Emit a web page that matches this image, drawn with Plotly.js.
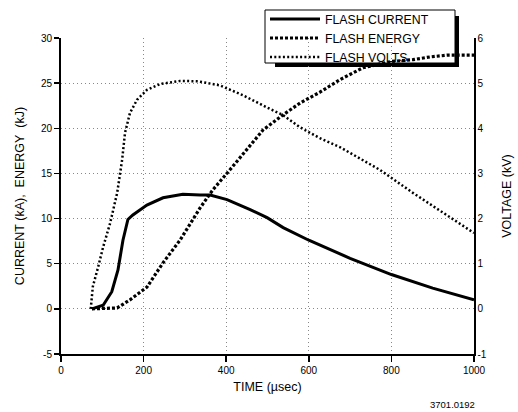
<!DOCTYPE html>
<html>
<head>
<meta charset="utf-8">
<script src="https://cdn.plot.ly/plotly-3.0.1.min.js"></script>
<style>html,body{margin:0;padding:0;background:#fff;}#chart{width:518px;height:412px;}</style>
</head>
<body>
<div id="chart"></div>
<script>
// Flash current (kA) vs time (µs)
const timeCurrent = [75,102,123,138,150,162,174,208,247,295,337,361,402,458,499,538,600,700,800,900,1000];
const current     = [0,0.4,1.9,4.3,7.6,9.9,10.4,11.5,12.3,12.7,12.6,12.6,12.1,11.0,10.1,9.0,7.6,5.6,3.8,2.3,1.0];

// Flash energy (kJ) vs time (µs)
const timeEnergy = [75,136,167,208,247,288,337,368,409,450,489,538,579,627,676,731,800,852,893,935,1000];
const energy     = [0,0.1,1.0,2.4,5.1,7.6,11.2,13.2,15.4,17.6,19.8,21.5,22.8,24.0,25.4,26.7,27.4,27.6,27.9,28.1,28.1];

// Flash voltage (kV) vs time (µs)
const timeVolts = [72,77,90,102,119,136,148,155,167,184,208,240,288,332,385,441,499,538,579,627,676,719,772,852,935,1000];
const volts     = [0,0.49,0.93,1.37,1.90,2.57,3.30,3.90,4.34,4.63,4.85,4.98,5.05,5.04,4.95,4.73,4.46,4.29,4.02,3.78,3.58,3.36,3.08,2.57,2.08,1.68];

const xTicks = [0,200,400,600,800,1000];
const yTicks = [-5,0,5,10,15,20,25,30];
const y2Ticks = [-1,0,1,2,3,4,5,6];

const names = ['FLASH CURRENT','FLASH ENERGY','FLASH VOLTS'];
const FONT = 'Liberation Sans, Arial, Helvetica, sans-serif';

// plot-area geometry (pixels) used to place the legend frame in paper units
const W = 518, H = 412, ML = 61, MR = 44, MT = 38, MB = 58;
const PW = W - ML - MR, PH = H - MT - MB;
const px = function(p) { return (p - ML) / PW; };
const py = function(p) { return (H - MB - p) / PH; };
const box = {l: 265, r: 455, t: 10, b: 63};
const shadow = 4;

const traces = [
  {x: timeCurrent, y: current, name: names[0], mode: 'lines', yaxis: 'y',
   line: {color: '#000', width: 3}},
  {x: timeEnergy, y: energy, name: names[1], mode: 'lines', yaxis: 'y',
   line: {color: '#000', width: 3.2, dash: '3px,2px'}},
  {x: timeVolts, y: volts, name: names[2], mode: 'lines', yaxis: 'y2',
   line: {color: '#000', width: 2.5, dash: '2px,2.3px'}}
];

const layout = {
  width: W, height: H,
  margin: {l: ML, r: MR, t: MT, b: MB, autoexpand: false},
  paper_bgcolor: '#fff', plot_bgcolor: '#fff',
  font: {family: FONT, size: 10, color: '#000'},
  showlegend: true,
  legend: {
    x: px(box.l), xanchor: 'left', y: py(4.5), yanchor: 'top',
    bgcolor: 'rgba(0,0,0,0)', borderwidth: 0,
    font: {family: FONT, size: 12.3, color: '#000'},
    itemwidth: 50, tracegroupgap: 0
  },
  xaxis: {
    range: [0, 1000], tickvals: xTicks, ticktext: xTicks.map(String),
    ticks: 'outside', ticklen: 6, tickwidth: 1.5, tickcolor: '#000',
    showline: true, linecolor: '#000', linewidth: 2,
    showgrid: true, gridcolor: '#888', griddash: '1px,3px', gridwidth: 1,
    zeroline: false, automargin: false,
    tickfont: {size: 10},
    title: {text: 'TIME (µsec)', font: {size: 12.5}, standoff: 7}
  },
  yaxis: {
    range: [-5, 30], tickvals: yTicks, ticktext: yTicks.map(String),
    ticks: 'outside', ticklen: 5, tickwidth: 1.5, tickcolor: '#000',
    showline: true, linecolor: '#000', linewidth: 2,
    showgrid: true, gridcolor: '#888', griddash: '1px,3px', gridwidth: 1,
    zeroline: false, automargin: false,
    tickfont: {size: 10},
    title: {text: 'CURRENT (kA),\u00a0 ENERGY\u00a0 (kJ)', font: {size: 12.5}, standoff: 14}
  },
  yaxis2: {
    overlaying: 'y', side: 'right',
    range: [-1, 6], tickvals: y2Ticks, ticktext: y2Ticks.map(String),
    ticks: '', showline: true, linecolor: '#000', linewidth: 1.5,
    showgrid: false, zeroline: false, automargin: false,
    tickfont: {size: 10},
    title: {text: 'VOLTAGE (kV)', font: {size: 12.5}, standoff: 16}
  },
  shapes: [
    {type: 'rect', xref: 'paper', yref: 'paper', layer: 'below',
     x0: px(box.l + shadow + 6), x1: px(box.r + shadow), y0: py(box.b + shadow), y1: py(box.t + 6),
     fillcolor: '#000', line: {width: 0}},
    {type: 'rect', xref: 'paper', yref: 'paper', layer: 'below',
     x0: px(box.l), x1: px(box.r), y0: py(box.b), y1: py(box.t),
     fillcolor: '#fff', line: {color: '#000', width: 1}}
  ],
  annotations: [{
    text: '3701.0192', xref: 'paper', yref: 'paper', x: px(477), y: py(404),
    xanchor: 'right', yanchor: 'middle', showarrow: false,
    font: {family: FONT, size: 9.5, color: '#000'}
  }]
};

Plotly.newPlot('chart', traces, layout, {displayModeBar: false, staticPlot: true});
</script>
</body>
</html>
